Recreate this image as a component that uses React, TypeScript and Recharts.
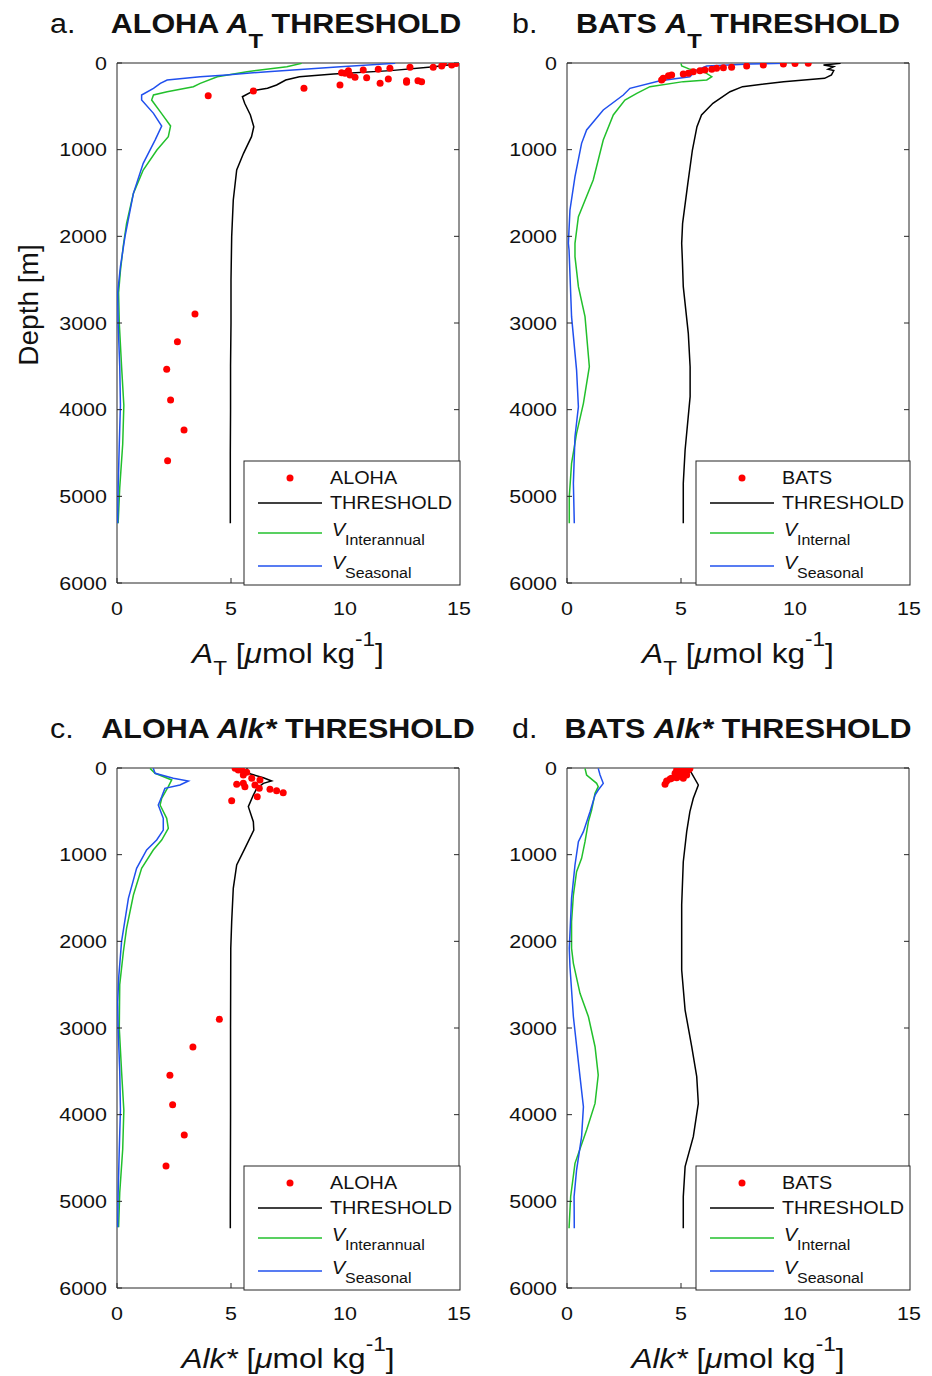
import React from "react";
import { ComposedChart, Scatter, XAxis, YAxis } from "recharts";

type Pair = [number, number];

const FONT = "'Liberation Sans', Arial, Helvetica, sans-serif";
const INK = "#111";
const AX = "#262626";
const GREEN = "#22c02c";
const BLUE = "#2050ee";
const RED = "#ff0000";
const SX = 1.13;
const TICK = 5;

const depthTicks = [0, 1000, 2000, 3000, 4000, 5000, 6000];
const valueTicks = [0, 5, 10, 15];

// a. ALOHA A_T  — [value, depth]
const aThreshold: Pair[] = [
  [15.0, 8], [13.9, 42], [12.0, 88], [9.5, 127], [8.0, 158], [7.4, 196], [7.0, 254], [6.6, 292],
  [6.0, 319], [5.5, 389], [5.6, 465], [5.85, 600], [6.0, 735], [5.9, 850], [5.55, 1042], [5.25, 1235],
  [5.1, 1581], [5.03, 2004], [5.0, 2500], [5.0, 3000], [4.98, 3500], [4.98, 4000], [4.97, 4500],
  [4.97, 5000], [4.97, 5310],
];
const aInterannual: Pair[] = [
  [8.1, 4], [7.45, 42], [5.7, 100], [4.4, 158], [3.65, 235], [3.35, 273], [2.2, 331], [1.6, 369],
  [1.52, 427], [1.95, 581], [2.35, 727], [2.25, 850], [1.75, 1004], [1.15, 1235], [0.72, 1504],
  [0.42, 1850], [0.28, 2100], [0.15, 2400], [0.07, 2650], [0.1, 3000], [0.2, 3500], [0.3, 3950],
  [0.25, 4400], [0.12, 4900], [0.05, 5310],
];
const aSeasonal: Pair[] = [
  [12.2, 4], [9.8, 42], [6.6, 100], [4.8, 138], [3.65, 158], [2.2, 196], [1.9, 235], [1.6, 292],
  [1.08, 369], [1.08, 427], [1.6, 581], [1.96, 727], [1.67, 889], [1.15, 1158], [0.72, 1504],
  [0.35, 2004], [0.15, 2350], [0.03, 2650], [0.05, 3000], [0.12, 3500], [0.15, 3950], [0.1, 4400],
  [0.05, 4900], [0.03, 5310],
];
const aStation: Pair[] = [
  [14.32, 3], [14.87, 5], [14.68, 23], [14.24, 35], [13.87, 50], [12.85, 50], [11.97, 61], [11.46, 73],
  [10.8, 81], [10.15, 88], [9.85, 112], [10.0, 119], [10.22, 138], [10.44, 165], [10.95, 169],
  [11.9, 185], [11.54, 235], [9.78, 254], [12.7, 204], [12.7, 223], [13.2, 204], [13.36, 215],
  [8.2, 292], [5.98, 323], [4.0, 377], [3.42, 2897], [2.65, 3216], [2.18, 3535], [2.35, 3889],
  [2.94, 4235], [2.22, 4589],
];

// b. BATS A_T
const bThreshold: Pair[] = [
  [12.0, 4], [11.25, 23], [11.7, 42], [11.45, 73], [11.7, 88], [11.6, 138], [11.3, 177], [9.5, 215],
  [7.7, 273], [7.15, 331], [6.4, 465], [5.9, 600], [5.7, 735], [5.5, 1004], [5.3, 1388], [5.07, 1850],
  [5.03, 2081], [5.06, 2273], [5.1, 2581], [5.32, 3119], [5.4, 3504], [5.4, 3850], [5.18, 4466],
  [5.1, 4850], [5.1, 5311],
];
const bInternal: Pair[] = [
  [5.0, 4], [5.03, 35], [5.4, 73], [6.0, 100], [6.35, 158], [6.13, 196], [5.1, 215], [3.64, 273],
  [3.06, 350], [2.54, 427], [2.03, 600], [1.59, 889], [1.15, 1350], [0.5, 1774], [0.35, 2081],
  [0.35, 2235], [0.5, 2581], [0.79, 2927], [0.98, 3504], [0.72, 3927], [0.42, 4273], [0.2, 4620],
  [0.1, 5004], [0.1, 5311],
];
const bSeasonal: Pair[] = [
  [9.56, 4], [8.03, 12], [6.13, 35], [5.69, 81], [5.39, 158], [4.08, 204], [2.76, 292], [2.47, 369],
  [1.59, 542], [0.86, 773], [0.64, 927], [0.35, 1312], [0.13, 1696], [0.06, 2081], [0.09, 2158],
  [0.2, 2927], [0.42, 3543], [0.5, 3966], [0.35, 4312], [0.28, 4850], [0.32, 5311],
];
const bStation: Pair[] = [
  [10.58, 3], [10.0, 6], [9.49, 12], [8.61, 23], [7.88, 35], [7.22, 50], [6.86, 54], [6.56, 61],
  [6.35, 73], [6.05, 81], [5.83, 88], [5.54, 100], [5.32, 119], [5.1, 127], [4.59, 138], [4.45, 146],
  [4.22, 177], [4.15, 196],
];

// c. ALOHA Alk*
const cThreshold: Pair[] = [
  [5.69, 4], [5.76, 61], [6.42, 112], [6.78, 150], [6.42, 177], [6.13, 235], [5.98, 312], [5.76, 446],
  [5.98, 619], [6.0, 716], [5.61, 927], [5.25, 1119], [5.1, 1388], [5.03, 1774], [4.99, 2081],
  [4.98, 3000], [4.98, 4000], [4.97, 5000], [4.97, 5310],
];
const cInterannual: Pair[] = [
  [1.45, 4], [1.67, 61], [2.4, 138], [2.25, 215], [1.96, 350], [1.89, 427], [2.18, 581], [2.25, 696],
  [1.96, 831], [1.59, 946], [1.08, 1158], [0.72, 1466], [0.42, 1850], [0.28, 2120], [0.12, 2500],
  [0.1, 3000], [0.2, 3500], [0.3, 3950], [0.25, 4400], [0.12, 4900], [0.07, 5300],
];
const cSeasonal: Pair[] = [
  [1.59, 4], [1.67, 61], [2.47, 119], [3.13, 150], [2.76, 196], [2.1, 235], [1.96, 331], [1.81, 427],
  [2.03, 581], [2.03, 716], [1.74, 831], [1.3, 946], [0.86, 1158], [0.5, 1504], [0.2, 2004],
  [0.08, 2400], [0.03, 2700], [0.05, 3000], [0.12, 3500], [0.15, 3950], [0.1, 4400], [0.05, 4900],
  [0.03, 5300],
];
const cStation: Pair[] = [
  [5.18, 3], [5.32, 23], [5.47, 23], [5.69, 50], [5.54, 81], [5.91, 119], [6.27, 138], [5.54, 177],
  [5.25, 188], [5.61, 215], [6.05, 196], [6.24, 235], [6.71, 246], [7.0, 262], [7.29, 285],
  [6.15, 331], [5.03, 377], [4.49, 2900], [3.33, 3220], [2.32, 3546], [2.44, 3885], [2.95, 4235],
  [2.15, 4593],
];

// d. BATS Alk*
const dThreshold: Pair[] = [
  [5.32, 4], [5.47, 61], [5.76, 196], [5.54, 350], [5.39, 504], [5.25, 735], [5.1, 1081], [5.03, 1581],
  [5.03, 2081], [5.03, 2331], [5.18, 2793], [5.47, 3216], [5.69, 3562], [5.76, 3870], [5.54, 4254],
  [5.18, 4600], [5.1, 4947], [5.1, 5311],
];
const dInternal: Pair[] = [
  [0.79, 4], [0.86, 81], [1.3, 177], [1.37, 215], [1.23, 292], [1.08, 485], [0.94, 619], [0.79, 850],
  [0.64, 1042], [0.42, 1196], [0.28, 1466], [0.2, 1774], [0.2, 2081], [0.28, 2254], [0.57, 2600],
  [0.94, 2870], [1.23, 3216], [1.37, 3543], [1.23, 3870], [0.86, 4177], [0.35, 4562], [0.16, 4947],
  [0.09, 5311],
];
const dSeasonal: Pair[] = [
  [1.37, 4], [1.45, 81], [1.59, 177], [1.37, 254], [1.23, 312], [1.01, 504], [0.72, 735], [0.5, 850],
  [0.35, 1119], [0.2, 1504], [0.1, 2081], [0.13, 2293], [0.28, 2870], [0.57, 3562], [0.72, 3908],
  [0.64, 4254], [0.42, 4639], [0.31, 4947], [0.32, 5311],
];
const dStation: Pair[] = [
  [5.25, 3], [5.39, 5], [5.32, 23], [5.03, 23], [4.81, 23], [5.18, 61], [4.96, 61], [4.74, 61],
  [5.25, 81], [5.03, 100], [4.81, 112], [5.1, 119], [4.59, 119], [4.52, 127], [4.37, 150], [4.3, 188],
];

const toPts = (arr: Pair[]) => arr.map(([x, d]) => ({ x, d }));

const noShape = () => <g />;
const dotShape = (p: any) => <circle cx={p.cx} cy={p.cy} r={3.5} fill={RED} />;
const emptyTick = () => <g />;

// bottom labels + inward tick marks
const xTick = (p: any) => (
  <g>
    <line x1={p.x} x2={p.x} y1={p.y} y2={p.y - TICK} stroke={AX} strokeWidth={1} />
    <text
      transform={`translate(${p.x} ${p.y + 32}) scale(${SX} 1)`}
      textAnchor="middle"
      fontSize={19}
      fontFamily={FONT}
      fill={INK}
    >
      {p.payload.value}
    </text>
  </g>
);

// left labels + inward tick marks
const yTick = (p: any) => (
  <g>
    <line x1={p.x} x2={p.x + TICK} y1={p.y} y2={p.y} stroke={AX} strokeWidth={1} />
    <text
      transform={`translate(${p.x - 10} ${p.y + 6.5}) scale(${SX} 1)`}
      textAnchor="end"
      fontSize={19}
      fontFamily={FONT}
      fill={INK}
    >
      {p.payload.value}
    </text>
  </g>
);

function Panel({ left, top, threshold, green, blue, dots }: any) {
  const axisCommon = { type: "number" as const, allowDataOverflow: true };
  const lw = 1.5;
  return (
    <div style={{ position: "absolute", left, top }}>
      <ComposedChart width={482} height={688} margin={{ top: 63, right: 23, bottom: 65, left: 57 }}>
        <XAxis
          xAxisId="b" dataKey="x" {...axisCommon} domain={[0, 15]} ticks={valueTicks} interval={0}
          orientation="bottom" height={40} tickLine={false} tickSize={0} tickMargin={0}
          axisLine={{ stroke: AX }} tick={xTick}
        />
        <XAxis
          xAxisId="t" {...axisCommon} domain={[0, 15]} ticks={valueTicks} interval={0}
          orientation="top" mirror tick={emptyTick} tickSize={TICK} axisLine={{ stroke: AX }}
          tickLine={{ stroke: AX }}
        />
        <YAxis
          yAxisId="l" dataKey="d" {...axisCommon} domain={[0, 6000]} reversed ticks={depthTicks} interval={0}
          width={60} tickLine={false} tickSize={0} tickMargin={0} axisLine={{ stroke: AX }} tick={yTick}
        />
        <YAxis
          yAxisId="r" {...axisCommon} domain={[0, 6000]} reversed ticks={depthTicks} interval={0}
          orientation="right" mirror tick={emptyTick} tickSize={TICK} axisLine={{ stroke: AX }}
          tickLine={{ stroke: AX }}
        />
        <Scatter
          xAxisId="b" yAxisId="l" data={toPts(threshold)} fill="#000" shape={noShape}
          line={{ stroke: "#000", strokeWidth: lw }} isAnimationActive={false}
        />
        <Scatter
          xAxisId="b" yAxisId="l" data={toPts(green)} fill={GREEN} shape={noShape}
          line={{ stroke: GREEN, strokeWidth: lw }} isAnimationActive={false}
        />
        <Scatter
          xAxisId="b" yAxisId="l" data={toPts(blue)} fill={BLUE} shape={noShape}
          line={{ stroke: BLUE, strokeWidth: lw }} isAnimationActive={false}
        />
        <Scatter
          xAxisId="b" yAxisId="l" data={toPts(dots)} fill={RED} shape={dotShape} isAnimationActive={false}
        />
      </ComposedChart>
    </div>
  );
}

function St({ x, y, size, anchor = "start", weight = "normal", italic = false, sx = SX, children }: any) {
  return (
    <text
      transform={`translate(${x} ${y}) scale(${sx} 1)`}
      fontSize={size}
      textAnchor={anchor}
      fontWeight={weight}
      fontStyle={italic ? "italic" : "normal"}
      fontFamily={FONT}
      fill={INK}
    >
      {children}
    </text>
  );
}

function LegendBox({ L, T, W, station, greenName }: any) {
  const s = 1.1;
  return (
    <g>
      <rect x={L} y={T} width={W} height={124} fill="#fff" stroke={AX} strokeWidth={1} />
      <circle cx={L + 46} cy={T + 17} r={3.5} fill={RED} />
      <St x={L + 86} y={T + 23.3} size={18} sx={s}>{station}</St>
      <line x1={L + 14} x2={L + 78} y1={T + 42} y2={T + 42} stroke="#000" strokeWidth={1.4} />
      <St x={L + 86} y={T + 48.3} size={18} sx={s}>THRESHOLD</St>
      <line x1={L + 14} x2={L + 78} y1={T + 72} y2={T + 72} stroke={GREEN} strokeWidth={1.4} />
      <St x={L + 88} y={T + 75} size={18} sx={s} italic>V</St>
      <St x={L + 101} y={T + 84} size={14.5} sx={s}>{greenName}</St>
      <line x1={L + 14} x2={L + 78} y1={T + 105} y2={T + 105} stroke={BLUE} strokeWidth={1.4} />
      <St x={L + 88} y={T + 108.3} size={18} sx={s} italic>V</St>
      <St x={L + 101} y={T + 117.3} size={14.5} sx={s}>Seasonal</St>
    </g>
  );
}

function Title({ letterX, cx, y, letter, station, alk }: any) {
  return (
    <g>
      <St x={letterX} y={y} size={27}>{letter}</St>
      <St x={cx} y={y} size={27} anchor="middle" weight="bold">
        {station + " "}
        {alk ? (
          <tspan fontStyle="italic">Alk*</tspan>
        ) : (
          <>
            <tspan fontStyle="italic">A</tspan>
            <tspan fontSize={21} dy={15}>T</tspan>
            <tspan dy={-15}> </tspan>
          </>
        )}
        {alk ? "  THRESHOLD" : "THRESHOLD"}
      </St>
    </g>
  );
}

function XLabel({ cx, y, alk }: any) {
  return (
    <St x={cx} y={y} size={28} anchor="middle">
      {alk ? (
        <tspan fontStyle="italic">Alk*</tspan>
      ) : (
        <>
          <tspan fontStyle="italic">A</tspan>
          <tspan fontSize={20} dy={12}>T</tspan>
          <tspan dy={-12}> </tspan>
        </>
      )}
      {alk ? " [" : "["}
      <tspan fontStyle="italic">μ</tspan>
      {"mol kg"}
      <tspan fontSize={20} dy={-17}>-1</tspan>
      <tspan dy={17}>]</tspan>
    </St>
  );
}

export default function App() {
  const dy = 705;
  return (
    <div style={{ position: "absolute", left: 0, top: 0, width: 932, height: 1376, background: "#fff", overflow: "hidden" }}>
      <Panel left={0} top={0} threshold={aThreshold} green={aInterannual} blue={aSeasonal} dots={aStation} />
      <Panel left={450} top={0} threshold={bThreshold} green={bInternal} blue={bSeasonal} dots={bStation} />
      <Panel left={0} top={dy} threshold={cThreshold} green={cInterannual} blue={cSeasonal} dots={cStation} />
      <Panel left={450} top={dy} threshold={dThreshold} green={dInternal} blue={dSeasonal} dots={dStation} />
      <svg
        width={932}
        height={1376}
        style={{ position: "absolute", left: 0, top: 0, pointerEvents: "none" }}
      >
        <Title letterX={50} cx={286} y={33} letter="a." station="ALOHA" />
        <Title letterX={512} cx={738} y={33} letter="b." station="BATS" />
        <Title letterX={50} cx={288} y={33 + dy} letter="c." station="ALOHA" alk />
        <Title letterX={512} cx={738} y={33 + dy} letter="d." station="BATS" alk />

        <XLabel cx={288} y={663} />
        <XLabel cx={738} y={663} />
        <XLabel cx={288} y={663 + dy} alk />
        <XLabel cx={738} y={663 + dy} alk />

        <text
          transform="translate(38 305) rotate(-90)"
          fontSize={28}
          textAnchor="middle"
          fontFamily={FONT}
          fill={INK}
        >
          Depth [m]
        </text>

        <LegendBox L={244} T={461} W={216} station="ALOHA" greenName="Interannual" />
        <LegendBox L={696} T={461} W={214} station="BATS" greenName="Internal" />
        <LegendBox L={244} T={461 + dy} W={216} station="ALOHA" greenName="Interannual" />
        <LegendBox L={696} T={461 + dy} W={214} station="BATS" greenName="Internal" />
      </svg>
    </div>
  );
}
